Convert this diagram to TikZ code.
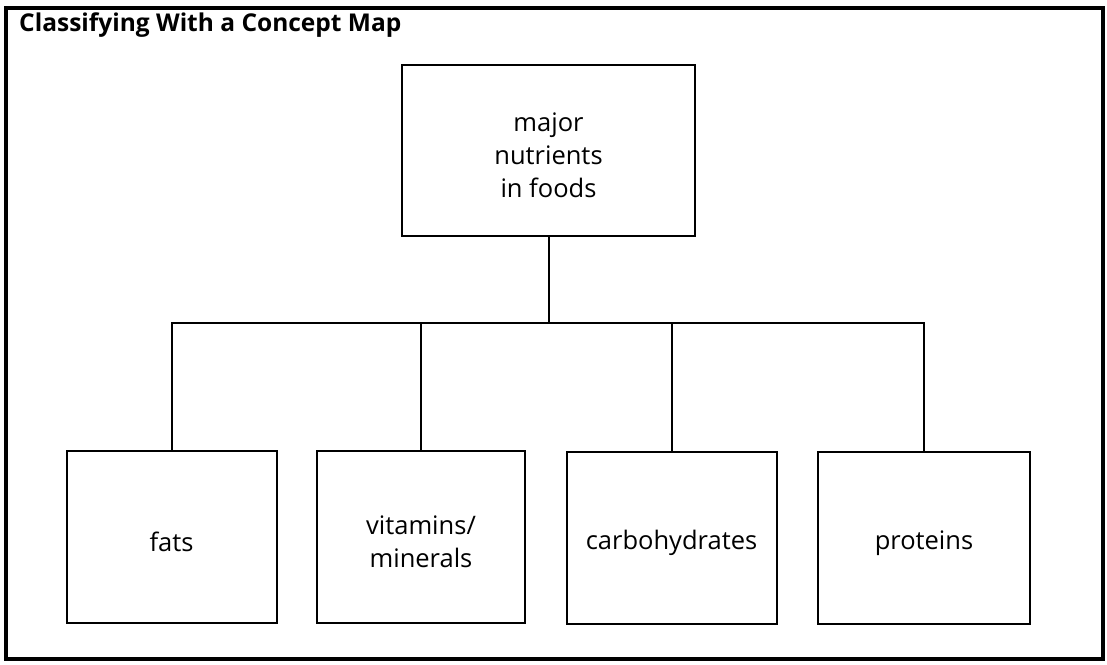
\documentclass[tikz,border=0pt]{standalone}
\usepackage{fontspec}
\setmainfont{Open Sans}
\begin{document}
\begin{tikzpicture}[x=1pt,y=-1pt,
  box/.style={draw, line width=2pt, minimum width=210pt, minimum height=172pt,
    inner sep=0pt},
  boxtext/.style={align=center, inner sep=0pt, yshift=-5pt,
    font=\fontsize{25.5}{33}\selectfont},
  link/.style={line width=2pt}]
\useasboundingbox (0,0) rectangle (1107,664);
% outer frame and heading
\draw[line width=3.5pt] (6,8) rectangle (1103,659);
\node[anchor=base west, inner sep=0pt, font=\bfseries\fontsize{24.5}{28}\selectfont]
  (title) at (19,31) {Classifying With a Concept Map};
% central concept
\node[box, minimum width=293pt, minimum height=171pt,
  label={[boxtext, name=toptext]center:major\\nutrients\\in foods}] (top) at (548.5,150.5) {};
% subordinate concepts
\node[box, label={[boxtext, name=fatstext]center:fats}] (fats) at (171.5,537) {};
\node[box, minimum width=208pt,
  label={[boxtext, name=vittext]center:vitamins/\\minerals}] (vit) at (421,537) {};
\node[box, label={[boxtext, name=carbtext]center:carbohydrates}] (carb) at (671.5,538) {};
\node[box, minimum width=212pt, label={[boxtext, name=prottext]center:proteins}] (prot) at (924,538) {};
% branching connectors
\coordinate (hub) at (548.5,323);
\draw[link] (top.south) -- (hub);
\draw[link] (fats.north) |- (hub);
\draw[link] (vit.north) |- (hub);
\draw[link] (carb.north) |- (hub);
\draw[link] (prot.north) |- (hub);
\end{tikzpicture}
\end{document}
